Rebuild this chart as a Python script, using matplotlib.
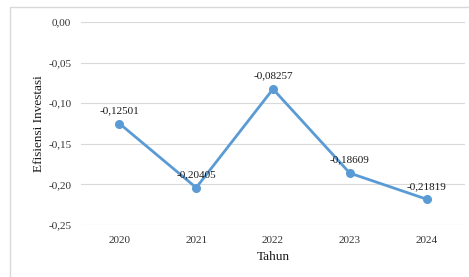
import matplotlib
matplotlib.use("Agg")
from matplotlib import pyplot as plt
from matplotlib.patches import Rectangle

# Data
years = ["2020", "2021", "2022", "2023", "2024"]
efisiensi = [-0.12501, -0.20405, -0.08257, -0.18609, -0.21819]
y_ticks = [0.00, -0.05, -0.10, -0.15, -0.20, -0.25]

plt.rcParams['font.family'] = ['Liberation Serif', 'DejaVu Serif']

W, H = 469, 277
fig = plt.figure(figsize=(W / 100, H / 100), dpi=100)
ax = fig.add_axes([81 / W, 1 - 225 / H, (465 - 81) / W, (225 - 22) / H])

# outer chart border
fig.patches.append(Rectangle((10 / W, -0.05), 1.2, 1 - 7 / H + 0.05,
                             transform=fig.transFigure, fill=False,
                             edgecolor='#D9D9D9', linewidth=1.0))

x = range(len(years))
ax.plot(x, efisiensi, color='#5B9BD5', linewidth=2.0, marker='o',
        markersize=5.5, zorder=3)

for xi, v in zip(x, efisiensi):
    ax.annotate(f"{v:.5f}".replace('.', ','), (xi, v), xytext=(0, 6),
                textcoords='offset points', ha='center', va='bottom',
                fontsize=8, color='#1a1a1a')

ax.set_xlim(-0.5, len(years) - 0.5)
ax.set_ylim(-0.25, 0.0)
ax.set_yticks(y_ticks)
ax.set_yticklabels([f"{t:.2f}".replace('.', ',') for t in y_ticks])
ax.set_xticks(list(x))
ax.set_xticklabels(years)
ax.grid(axis='y', color='#D9D9D9', linewidth=0.8)
ax.set_axisbelow(True)
for s in ax.spines.values():
    s.set_visible(False)
ax.tick_params(length=0, labelsize=8, colors='#333333', pad=8)
ax.tick_params(axis='y', pad=7)

ax.set_xlabel("Tahun", fontsize=9.5, labelpad=4, color='#1a1a1a')
ax.set_ylabel("Efisiensi Investasi", fontsize=9.5, labelpad=2, color='#1a1a1a')

fig.savefig("out.png", dpi=100)
